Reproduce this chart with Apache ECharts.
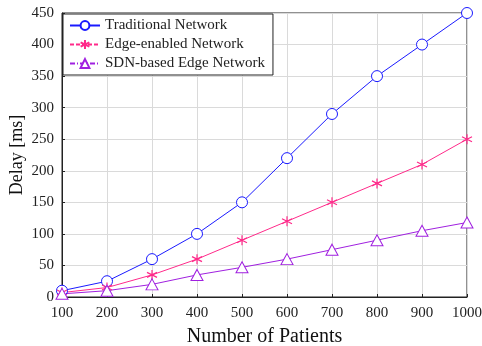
<!DOCTYPE html>
<html><head><meta charset="utf-8">
<script src="https://cdn.jsdelivr.net/npm/echarts@6/dist/echarts.min.js"></script>
<style>html,body{margin:0;padding:0;background:#fff}#c{width:482px;height:346px}</style>
</head><body><div id="c"></div>
<script>
const patients = [100,200,300,400,500,600,700,800,900,1000];
const traditional = [10,25,60,100,150,220,290,350,400,450];
const edgeEnabled = [7,15,35,60,90,120,150,180,210,250];
const sdnEdge = [5,10,20,35,47,60,75,90,105,118];
const seriesNames = ['Traditional Network','Edge-enabled Network','SDN-based Edge Network'];

const F = 'Liberation Serif, DejaVu Serif, serif';
const asterisk = 'path://M0,-5L0,5M-4.33,-2.5L4.33,2.5M-4.33,2.5L4.33,-2.5';
const pair = a => patients.map((p,i)=>[p,a[i]]);
const chart = echarts.init(document.getElementById('c'));
chart.setOption({
  animation:false,
  backgroundColor:'#fff',
  grid:{left:62,right:15,top:13,bottom:49,show:true,borderColor:'#222',borderWidth:1,backgroundColor:'transparent',
        containLabel:false,outerBoundsMode:'none'},
  legend:{
    orient:'vertical',left:63,top:14,
    backgroundColor:'#fff',borderColor:'#222',borderWidth:1,borderRadius:0,
    padding:[4,8,4,6],itemGap:4,itemWidth:30,itemHeight:11,
    textStyle:{fontFamily:F,fontSize:15,color:'#222'},
    data:[
      {name:seriesNames[0]},
      {name:seriesNames[1],lineStyle:{type:[4,2]}},
      {name:seriesNames[2],lineStyle:{type:[5,2,1,2]}}
    ]
  },
  xAxis:{
    type:'value',min:100,max:1000,interval:100,
    name:'Number of Patients',nameLocation:'middle',nameGap:30,nameMoveOverlap:false,
    nameTextStyle:{fontFamily:F,fontSize:20,color:'#111'},
    axisLine:{show:true,lineStyle:{color:'#222'}},
    axisTick:{show:true,inside:true,length:3,lineStyle:{color:'#222'}},
    axisLabel:{fontFamily:F,fontSize:15,color:'#222',margin:9,formatter:v=>String(v)},
    splitLine:{show:true,lineStyle:{color:'#dadada',width:1}}
  },
  yAxis:{
    type:'value',min:0,max:450,interval:50,
    name:'Delay [ms]',nameLocation:'middle',nameGap:36,nameRotate:90,nameMoveOverlap:false,
    nameTextStyle:{fontFamily:F,fontSize:18,color:'#111'},
    axisLine:{show:true,lineStyle:{color:'#222'}},
    axisTick:{show:true,inside:true,length:3,lineStyle:{color:'#222'}},
    axisLabel:{fontFamily:F,fontSize:15,color:'#222',margin:8,formatter:v=>String(v)},
    splitLine:{show:true,lineStyle:{color:'#dadada',width:1}}
  },
  series:[
    {name:seriesNames[0],type:'line',data:pair(traditional),symbol:'circle',symbolSize:11,
     lineStyle:{color:'#1a1aff',width:1},itemStyle:{color:'#fff',borderColor:'#1a1aff',borderWidth:1},
     showAllSymbol:true},
    {name:seriesNames[1],type:'line',data:pair(edgeEnabled),symbol:asterisk,symbolSize:10,
     lineStyle:{color:'#ff2a8a',width:1},itemStyle:{color:'transparent',borderColor:'#ff2a8a',borderWidth:1.2}},
    {name:seriesNames[2],type:'line',data:pair(sdnEdge),symbol:'triangle',symbolSize:[12,11],
     lineStyle:{color:'#a020e0',width:1},itemStyle:{color:'#fff',borderColor:'#a020e0',borderWidth:1}}
  ]
});
</script></body></html>
